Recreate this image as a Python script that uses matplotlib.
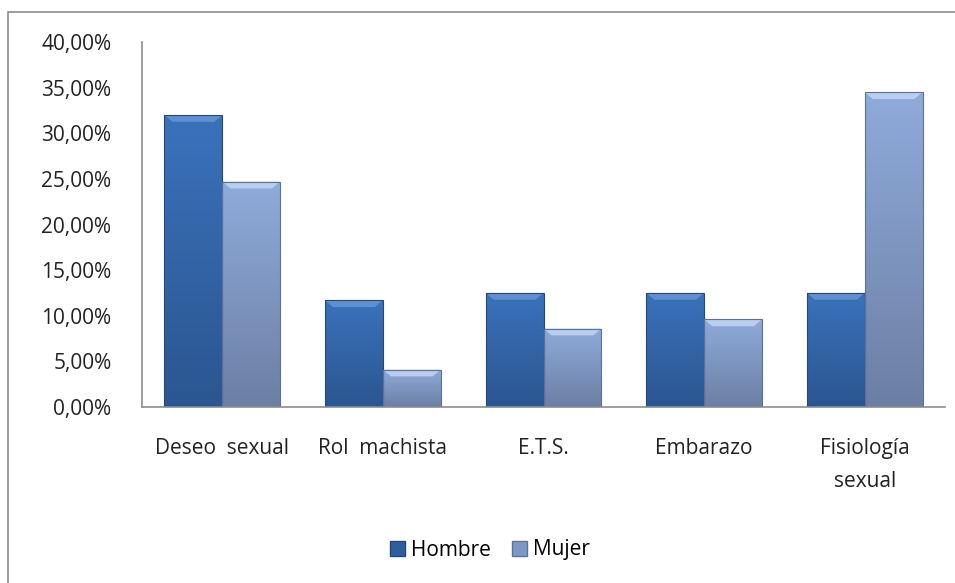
import numpy as np
import matplotlib.pyplot as plt
from matplotlib.patches import Rectangle, Polygon, Patch
from matplotlib.colors import LinearSegmentedColormap
from matplotlib.ticker import FuncFormatter

categories = ['Deseo  sexual', 'Rol  machista', 'E.T.S.', 'Embarazo', 'Fisiología\nsexual']
hombre = [32.0, 11.7, 12.5, 12.5, 12.5]
mujer = [24.7, 4.1, 8.6, 9.6, 34.5]
series_names = ['Hombre', 'Mujer']
yticks = np.arange(0, 41, 5)

plt.rcParams['font.family'] = ['Open Sans', 'DejaVu Sans']

W, H = 955, 583
fig = plt.figure(figsize=(W / 100, H / 100), dpi=100)
fig.patch.set_facecolor('white')

# outer chart frame (cropped on right/bottom in the reference)
fig.patches.append(Rectangle((8 / W, -0.1), 1.2, 1 - 12 / H + 0.1,
                             transform=fig.transFigure, fill=False,
                             edgecolor='#8c8c8c', linewidth=1.2))

ax = fig.add_axes([142 / W, (H - 407) / H, (945 - 142) / W, (407 - 42) / H])

x = np.arange(len(categories))
bw = 0.36
b1 = ax.bar(x - bw / 2, hombre, bw, color='#3567a8', edgecolor='#23497a', linewidth=0.8)
b2 = ax.bar(x + bw / 2, mujer, bw, color='#849dc9', edgecolor='#5b719a', linewidth=0.8)

# vertical gradient fill clipped to each bar, plus a bevel on top
grads = [LinearSegmentedColormap.from_list('h', ['#2b5690', '#3a72bb']),
         LinearSegmentedColormap.from_list('m', ['#6c7fa3', '#8fabdb'])]
tops = ['#5d90d2', '#b8cdef']
g = np.linspace(0, 1, 256).reshape(-1, 1)
for bars, cmap, top in zip((b1, b2), grads, tops):
    for r in bars:
        x0, w, h = r.get_x(), r.get_width(), r.get_height()
        im = ax.imshow(g, cmap=cmap, origin='lower', aspect='auto',
                       extent=(x0, x0 + w, 0, h), zorder=2)
        im.set_clip_path(r)
        bev = 0.75
        ax.add_patch(Polygon([(x0, h), (x0 + w, h), (x0 + w * 0.86, h - bev), (x0 + w * 0.14, h - bev)],
                             closed=True, facecolor=top, edgecolor='none', zorder=3))
        r.set_facecolor('none')
        r.set_zorder(4)

ax.set_xlim(-0.5, len(categories) - 0.5)
ax.set_ylim(0, 40)
ax.set_yticks(yticks)
ax.yaxis.set_major_formatter(FuncFormatter(lambda v, p: f'{v:.2f}%'.replace('.', ',')))
ax.set_xticks(x)
ax.set_xticklabels(categories, linespacing=1.75)
ax.tick_params(axis='both', length=0, labelsize=15, colors='#222222')
ax.tick_params(axis='x', pad=22)
ax.tick_params(axis='y', pad=22)
for s in ('top', 'right'):
    ax.spines[s].set_visible(False)
for s in ('left', 'bottom'):
    ax.spines[s].set_color('#8c8c8c')
    ax.spines[s].set_linewidth(1.2)
    ax.spines[s].set_zorder(5)

handles = [Patch(facecolor='#2f5e9c', edgecolor='#23497a'),
           Patch(facecolor='#7f97c4', edgecolor='#5b719a')]
fig.legend(handles, series_names, loc='center', bbox_to_anchor=(490 / W, (H - 550) / H),
           ncol=2, frameon=False, fontsize=15, handlelength=0.7, handleheight=0.7,
           handletextpad=0.3, columnspacing=1.0)

fig.savefig('out.png', dpi=100)
